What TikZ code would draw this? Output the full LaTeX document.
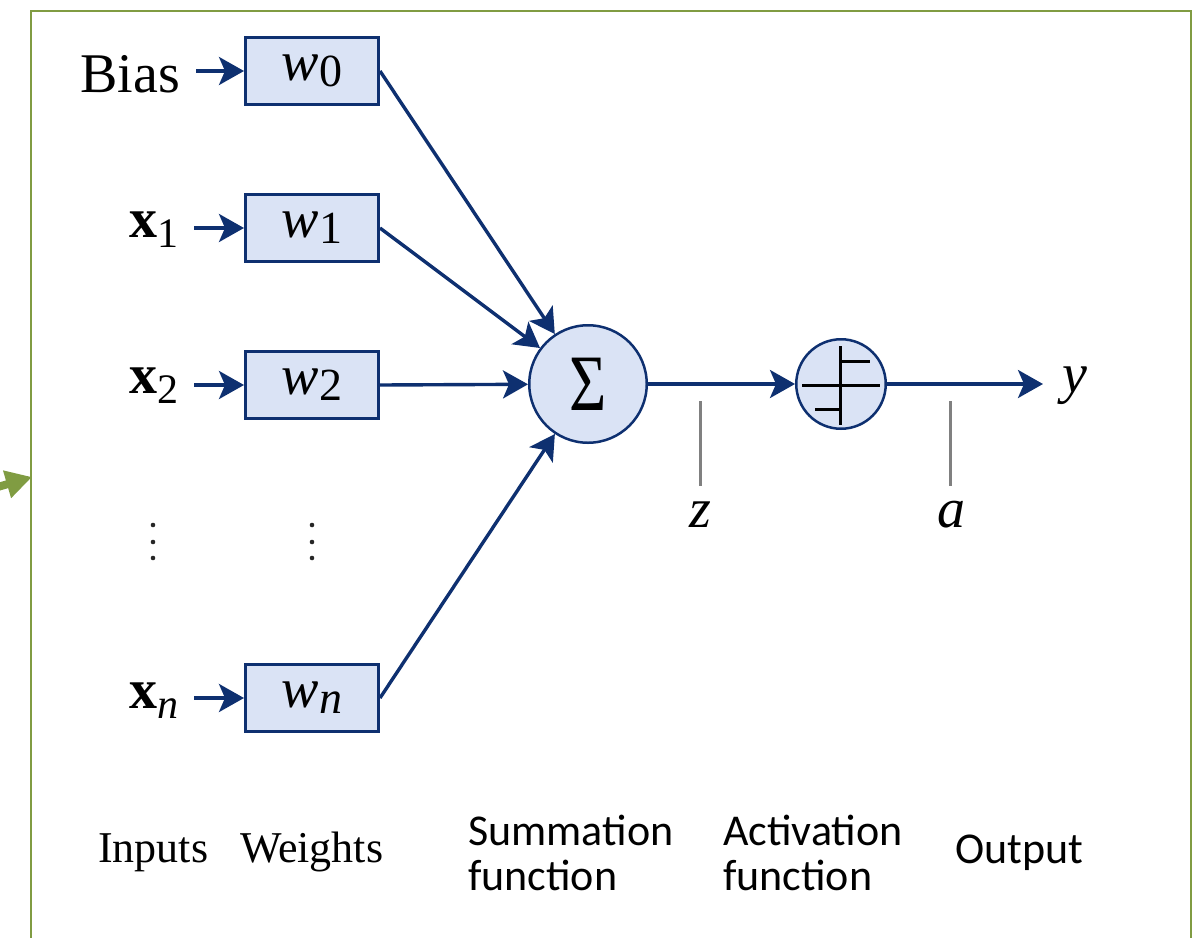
\documentclass[tikz,border=0pt]{standalone}
\usepackage{fontspec}
\setmainfont{Liberation Serif}
\newfontfamily\carl{Carlito}
\usetikzlibrary{arrows.meta,calc}
\definecolor{navy}{RGB}{14,48,112}
\definecolor{lblue}{RGB}{218,227,245}
\definecolor{frameg}{RGB}{128,156,66}
\definecolor{tickg}{RGB}{128,128,128}
\newcommand{\wsub}[1]{\raisebox{-6pt}{\fontsize{46}{46}\selectfont\upshape #1}}
\newcommand{\xsub}[1]{\raisebox{-10pt}{\fontsize{42}{42}\selectfont\mdseries #1}}
\begin{document}
\begin{tikzpicture}[x=1pt,y=-1pt,
  arr/.style={draw=navy, line width=3.4pt, -{Stealth[length=25pt,width=28pt,inset=6pt]}},
  wbox/.style={draw=navy, fill=lblue, line width=3pt, minimum width=133pt, minimum height=67pt, inner sep=0pt, font=\fontsize{56}{56}\selectfont\itshape},
  inlab/.style={anchor=base east, inner sep=0pt, outer xsep=16pt, font=\fontsize{56}{56}\selectfont},
  neuron/.style={circle, draw=navy, fill=lblue, line width=2.5pt, inner sep=0pt},
  tick/.style={draw=tickg, line width=3pt},
  mathlab/.style={anchor=base, inner sep=0pt, font=\fontsize{56}{56}\selectfont\itshape},
  serlab/.style={anchor=base west, inner sep=0pt, font=\fontsize{44}{45}\selectfont},
  caplab/.style={anchor=base west, inner sep=0pt, align=left, font=\fontsize{44}{45}\selectfont\carl},
  dotc/.style={fill=black!85}
]
\useasboundingbox (0,0) rectangle (1193,937);
% frame and pointer
\draw[frameg, line width=2pt] (31,11) rectangle (1191,960);
\coordinate (gtail) at (-40,498);
\coordinate (gtip) at (32,477);
\draw[frameg, line width=8pt, -{Triangle[length=26pt,width=27pt]}] (gtail) -- (gtip);

% weight boxes
\node[wbox] (w0) at (312,71) {w\wsub{0}};
\node[wbox] (w1) at (312,228) {w\wsub{1}};
\node[wbox] (w2) at (312,385) {w\wsub{2}};
\node[wbox] (wn) at (312,698) {w\wsub{\textit{n}}};

% inputs
\node[inlab] (bias) at (196,92) {Bias};
\node[inlab] (x1) at (194,237) {\textbf{x}\xsub{1}};
\node[inlab] (x2) at (194,393) {\textbf{x}\xsub{2}};
\node[inlab] (xn) at (194,708) {\textbf{x}\xsub{\textit{n}}};

\draw[arr] (bias.east |- w0.west) -- (w0.west);
\draw[arr] (x1.east |- w1.west) -- (w1.west);
\draw[arr] (x2.east |- w2.west) -- (w2.west);
\draw[arr] (xn.east |- wn.west) -- (wn.west);

% dots
\foreach \yy in {525,542,558}{
  \fill[dotc] (153,\yy) circle (2.3);
  \fill[dotc] (312,\yy) circle (2.3);
}

% summation and activation
\node[neuron, minimum size=117.5pt] (sum) at (588,384) {\fontsize{80}{80}\selectfont\scalebox{0.8}[1]{Σ}};
\node[neuron, minimum size=89.5pt] (act) at (841,384) {};
\begin{scope}[shift={(act.center)}, line width=3pt]
  \draw (-1,-38) -- (-1,41);
  \draw (-39,1) -- (39,1);
  \draw (-1,-23) -- (29,-23);
  \draw (-26,25) -- (-1,25);
\end{scope}

\draw[arr] (w0.east) -- (sum);
\draw[arr] (w1.east) -- (sum);
\draw[arr] (w2.east) -- (sum);
\draw[arr] (wn.east) -- (sum);
\draw[arr] (sum) -- (act);

\node[mathlab, anchor=base west, outer xsep=19pt] (yout) at (1043,392) {y};
\draw[arr] (act.east) -- (act.east -| yout.west);

% z and a
\coordinate (zt) at (700,401);
\coordinate (zb) at (700,486);
\draw[tick] (zt) -- (zb);
\node[mathlab] (zl) at (700,527) {z};
\coordinate (at) at (950,401);
\coordinate (ab) at (950,486);
\draw[tick] (at) -- (ab);
\node[mathlab] (al) at (951,527) {a};

% bottom captions
\node[serlab] (inp) at (98,862) {Inputs};
\node[serlab] (wts) at (240,862) {Weights};
\node[caplab] (summ) at (468,890) {Summation\\function};
\node[caplab] (actf) at (723,890) {Activation\\function};
\node[caplab] (outp) at (955,863) {Output};
\end{tikzpicture}
\end{document}
